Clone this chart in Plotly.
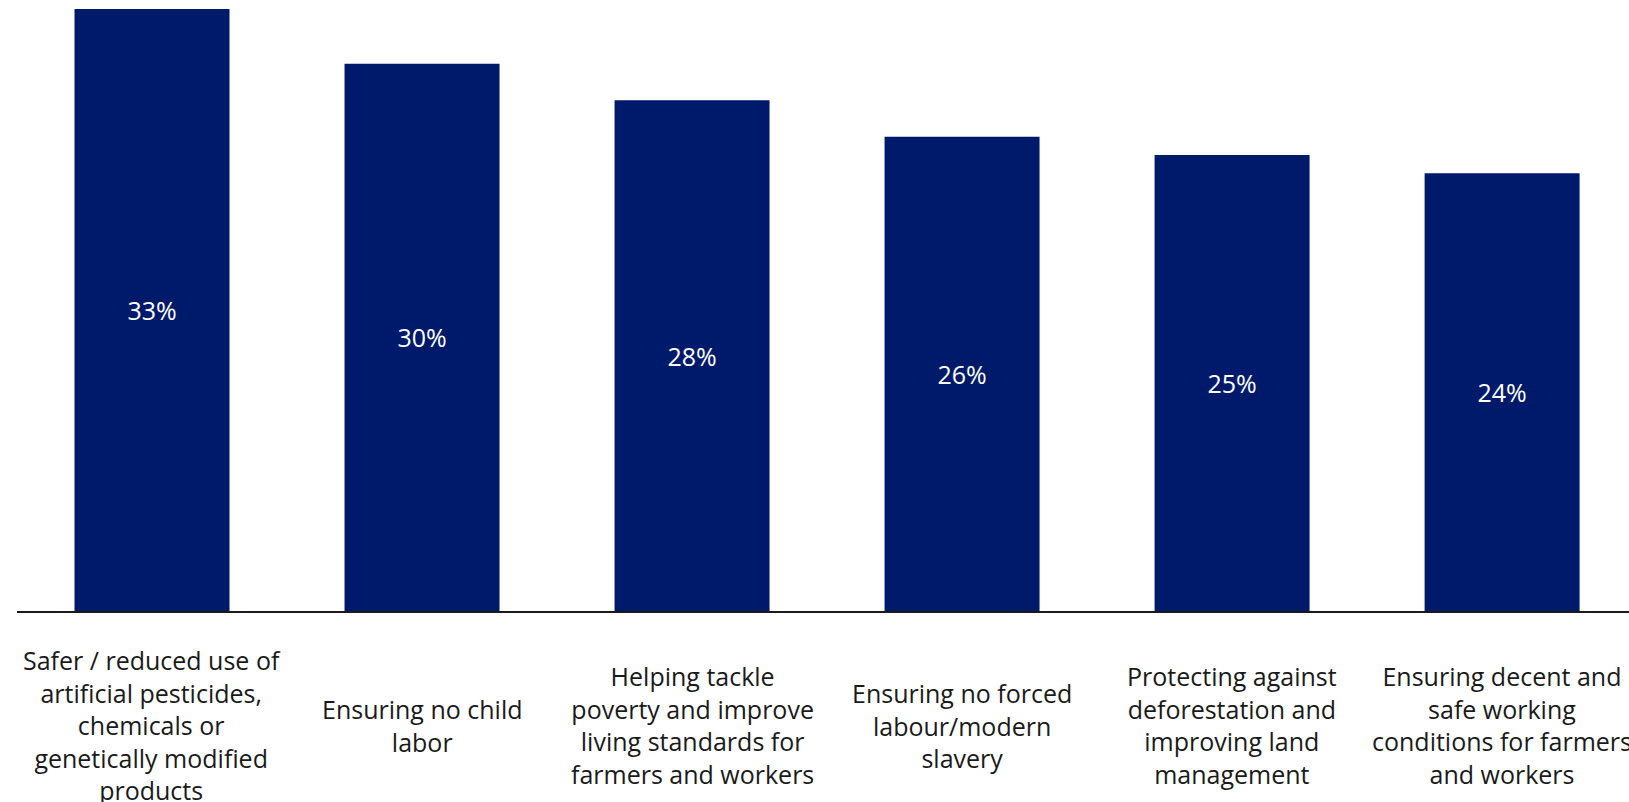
import plotly.graph_objects as go

# Share of respondents citing each sustainability priority
categories = [
    "Safer / reduced use of<br>artificial pesticides,<br>chemicals or<br>genetically modified<br>products",
    "Ensuring no child<br>labor",
    "Helping tackle<br>poverty and improve<br>living standards for<br>farmers and workers",
    "Ensuring no forced<br>labour/modern<br>slavery",
    "Protecting against<br>deforestation and<br>improving land<br>management",
    "Ensuring decent and<br>safe working<br>conditions for farmers<br>and workers",
]
values = [33, 30, 28, 26, 25, 24]

BAR_COLOR = "#001a6b"
FONT = "Open Sans"

x_pos = list(range(len(categories)))

fig = go.Figure(
    go.Bar(
        x=x_pos,
        y=values,
        marker=dict(color=BAR_COLOR, line=dict(width=0)),
        width=0.574,
        text=[f"{v}%" for v in values],
        textposition="inside",
        insidetextanchor="middle",
        textangle=0,
        constraintext="none",
        textfont=dict(family=FONT, size=25, color="white"),
        hoverinfo="skip",
    )
)

# Category labels, vertically centred under each bar
for xi, label in zip(x_pos, categories):
    fig.add_annotation(
        x=xi,
        xref="x",
        y=0,
        yref="paper",
        yshift=-114,
        yanchor="middle",
        xanchor="center",
        text=label,
        showarrow=False,
        align="center",
        font=dict(family=FONT, size=25, color="#1a1a1a"),
    )

fig.update_layout(
    width=1629,
    height=802,
    margin=dict(l=17, r=0, t=9, b=191),
    paper_bgcolor="white",
    plot_bgcolor="white",
    showlegend=False,
    xaxis=dict(
        range=[-0.5, 5.47],
        showticklabels=False,
        ticks="",
        showgrid=False,
        zeroline=False,
        showline=True,
        linecolor="#1a1a1a",
        linewidth=1.5,
        fixedrange=True,
    ),
    yaxis=dict(
        range=[0, 33],
        visible=False,
        showgrid=False,
        zeroline=False,
        fixedrange=True,
    ),
)

fig.write_html("out.html", config={"displayModeBar": False})
